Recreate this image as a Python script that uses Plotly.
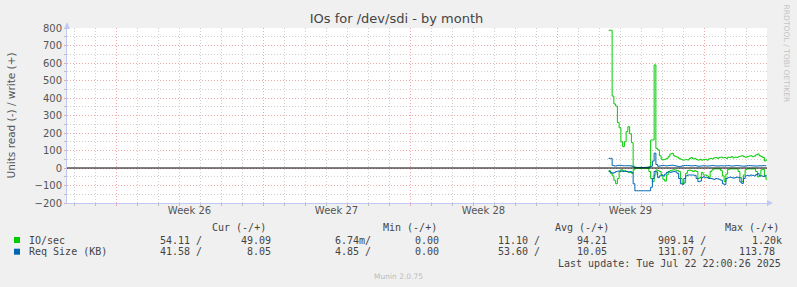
import plotly.graph_objects as go
import pandas as pd

# ---------------- data ----------------
series_start = "2025-07-15 11:00"   # 2-hour samples
io_write = [787, 787, 411, 366, 354, 260, 230, 150, 122, 150,
            208, 236, 195, 145, 10, 4, 3, 3, 4, 3,
            3, 4, 5, 8, 160, 160, 589, 112, 103, 70,
            50, 47, 50, 55, 65, 80, 84, 70, 65, 62,
            55, 50, 46, 46, 48, 46, 55, 60, 52, 55,
            48, 45, 50, 45, 48, 50, 45, 52, 55, 52,
            58, 60, 55, 60, 62, 58, 60, 55, 62, 60,
            65, 58, 62, 60, 65, 68, 70, 65, 62, 65,
            68, 70, 65, 68, 75, 80, 70, 65, 60, 40,
            50]
io_read = [15, 30, 45, 70, 90, 60, 20, 10, 15, 15,
           20, 25, 25, 30, 10, 2, 2, 2, 2, 2,
           2, 2, 3, 20, 60, 78, 40, 11, 15, 20,
           40, 65, 75, 40, 20, 15, 12, 10, 12, 15,
           20, 60, 88, 85, 30, 15, 12, 15, 20, 15,
           20, 60, 55, 25, 40, 40, 45, 55, 20, 10,
           5, 5, 5, 5, 15, 45, 78, 35, 8, 5,
           5, 5, 5, 5, 20, 55, 78, 40, 10, 5,
           5, 5, 5, 5, 20, 50, 45, 10, 8, 50,
           70]
req_write = [55, 55, 15, 12, 12, 15, 15, 15, 13, 13,
             13, 13, 13, 10, 5, 3, 3, 3, 3, 3,
             3, 3, 3, 5, 10, 40, 85, 20, 10, 12,
             14, 15, 13, 12, 14, 15, 16, 14, 12, 10,
             8, 10, 13, 14, 15, 14, 13, 12, 13, 14,
             12, 10, 11, 12, 13, 12, 11, 12, 13, 14,
             13, 12, 11, 12, 13, 12, 12, 13, 14, 12,
             11, 12, 13, 14, 13, 12, 11, 10, 12, 13,
             14, 13, 12, 12, 11, 12, 13, 12, 14, 13,
             12]
req_read = [20, 25, 30, 25, 20, 18, 17, 18, 20, 20,
            20, 22, 20, 25, 90, 130, 130, 130, 130, 130,
            130, 130, 130, 130, 110, 60, 20, 22, 55, 45,
            40, 45, 35, 25, 22, 25, 22, 20, 22, 30,
            60, 90, 93, 60, 45, 40, 40, 40, 40, 42,
            60, 78, 75, 55, 50, 55, 55, 60, 60, 62,
            65, 60, 62, 65, 70, 90, 95, 60, 55, 52,
            55, 58, 55, 52, 55, 80, 88, 60, 45, 42,
            45, 40, 42, 45, 38, 32, 45, 45, 48, 45,
            40]

x_range = ["2025-06-19 16:00", "2025-07-23 00:00"]
week_start = "2025-06-22"
week_labels = ["Week 26", "Week 27", "Week 28", "Week 29"]
week_mid = ["2025-06-25 12:00", "2025-07-02 12:00", "2025-07-09 12:00", "2025-07-16 12:00"]
y_range = [-200, 800]

legend_names = ["IO/sec", "Req Size (KB)"]
legend_colors = ["#00CC00", "#0066B3"]
cur_read = ["54.11", "41.58"]
cur_write = ["49.09", "8.05"]
min_read = ["6.74m", "4.85"]
min_write = ["0.00", "0.00"]
avg_read = ["11.10", "53.60"]
avg_write = ["94.21", "10.05"]
max_read = ["909.14", "131.07"]
max_write = ["1.20k", "113.78"]
col_headers = ["Cur (-/+)", "Min (-/+)", "Avg (-/+)", "Max (-/+)"]

title = "IOs for /dev/sdi - by month"
y_title = "Units read (-) / write (+)"
last_update = "Last update: Tue Jul 22 22:00:26 2025"
footer = "Munin 2.0.75"
watermark = "RRDTOOL / TOBI OETIKER"

# ---------------- figure ----------------
W, H = 797, 287
L, R, T, B = 67, 767, 28, 203


def px(xp):
    return (xp - L) / (R - L)


def py(yp):
    return (B - yp) / (B - T)


times = pd.date_range(series_start, periods=len(io_write), freq="2h")

fig = go.Figure()
for vals, color, neg in [(io_read, legend_colors[0], True), (io_write, legend_colors[0], False),
                         (req_read, legend_colors[1], True), (req_write, legend_colors[1], False)]:
    fig.add_trace(go.Scatter(
        x=times, y=[-v if neg else v for v in vals], mode="lines",
        line=dict(color=color, width=1, shape="hv"), showlegend=False, hoverinfo="skip"))

DAY = 86400000
major_grid = "rgba(232,140,140,0.75)"
minor_grid = "#cfcfcf"
dash = "1px,2px"
axis_col = "#c0c8f4"
tick_font = dict(family="DejaVu Sans", size=10, color="#555555")

fig.update_layout(
    width=W, height=H,
    margin=dict(l=L, r=W - R, t=T, b=H - B, pad=0),
    paper_bgcolor="#F0F0F0", plot_bgcolor="white",
    showlegend=False,
    xaxis=dict(type="date", range=x_range, tick0=week_start, dtick=7 * DAY,
               showticklabels=False, showgrid=True, gridcolor=major_grid, griddash=dash,
               gridwidth=1, ticks="outside", ticklen=2, tickcolor=major_grid,
               showline=True, linecolor=axis_col, linewidth=1, zeroline=False,
               minor=dict(dtick=DAY, tick0=week_start, showgrid=True, gridcolor=minor_grid,
                          griddash=dash, gridwidth=1, ticks="outside", ticklen=2,
                          tickcolor="#bbbbbb")),
    xaxis2=dict(type="date", range=x_range, overlaying="x", anchor="y", side="bottom",
                tickmode="array", tickvals=week_mid, ticktext=week_labels,
                showgrid=False, ticks="", showline=False, zeroline=False,
                tickfont=tick_font),
    yaxis=dict(range=y_range, tick0=0, dtick=100, showgrid=True, gridcolor=major_grid,
               griddash=dash, gridwidth=1, ticks="outside", ticklen=2,
               tickcolor=major_grid, tickfont=tick_font,
               showline=True, linecolor=axis_col, linewidth=1, zeroline=False,
               minor=dict(dtick=50, showgrid=True, gridcolor=minor_grid, griddash=dash,
                          gridwidth=1, ticks="outside", ticklen=2, tickcolor="#bbbbbb"),
               title=dict(text=y_title, standoff=16,
                          font=dict(family="DejaVu Sans", size=10.5, color="#555555"))),
    title=dict(text=title, x=px(396.5), xref="paper", xanchor="center",
               y=1 - 18 / H, yref="container", yanchor="middle",
               font=dict(family="DejaVu Sans", size=13, color="#444444")),
)
# dummy trace so xaxis2 is rendered
fig.add_trace(go.Scatter(x=[times[0]], y=[None], xaxis="x2", showlegend=False, hoverinfo="skip"))

shapes = []
# zero line
shapes.append(dict(type="line", xref="paper", yref="y", x0=0, x1=1, y0=0, y1=0,
                   line=dict(color="black", width=1), layer="above"))
# axis arrows
shapes.append(dict(type="path", xref="paper", yref="paper", fillcolor=axis_col, line=dict(width=0),
                   path=f"M {px(L-3)},{py(T+1)} L {px(L+3)},{py(T+1)} L {px(L)},{py(T-6)} Z"))
shapes.append(dict(type="path", xref="paper", yref="paper", fillcolor=axis_col, line=dict(width=0),
                   path=f"M {px(R)},{py(B-3)} L {px(R)},{py(B+3)} L {px(R+6)},{py(B)} Z"))
# legend squares
row_y = [240, 251.7]
for i, c in enumerate(legend_colors):
    shapes.append(dict(type="rect", xref="paper", yref="paper", fillcolor=c, line=dict(width=0),
                       x0=px(14), x1=px(20), y0=py(row_y[i] + 3), y1=py(row_y[i] - 3)))
fig.update_layout(shapes=shapes)

mono = dict(family="DejaVu Sans Mono", size=10, color="#444444")
ann = []


def text(t, xp, yp, anchor="left", font=mono, **kw):
    ann.append(dict(text=t, x=px(xp), y=py(yp), xref="paper", yref="paper", showarrow=False,
                    xanchor=anchor, yanchor="middle", font=font, **kw))


header_left = [210, 381, 552.7, 723.3]
for h, xl in zip(col_headers, header_left):
    text(h, xl, 227.3)

read_right = [204, 372.7, 541.7, 708.3]
write_right = [278.7, 446.7, 615.3, 783.5]
CH = 6.0
for i, name in enumerate(legend_names):
    text(name, 26.7, row_y[i])
    reads = [cur_read[i], min_read[i], avg_read[i], max_read[i]]
    writes = [cur_write[i], min_write[i], avg_write[i], max_write[i]]
    for r, w, rr, wr in zip(reads, writes, read_right, write_right):
        rs = r + "/" if r[-1].isalpha() else r + " /"
        text(rs, rr, row_y[i], anchor="right")
        off = 0 if w[-1].isalpha() else CH
        text(w, wr - off, row_y[i], anchor="right")

text(last_update, 783.3, 263.3, anchor="right")
text(footer, 398.5, 276, anchor="center",
     font=dict(family="DejaVu Sans", size=7.5, color="#bbbbbb"))
text(watermark, 786.5, 54, anchor="center",
     font=dict(family="DejaVu Sans", size=7.6, color="#c4c4c4"), textangle=90)
fig.update_layout(annotations=ann)

fig.write_html("out.html")
